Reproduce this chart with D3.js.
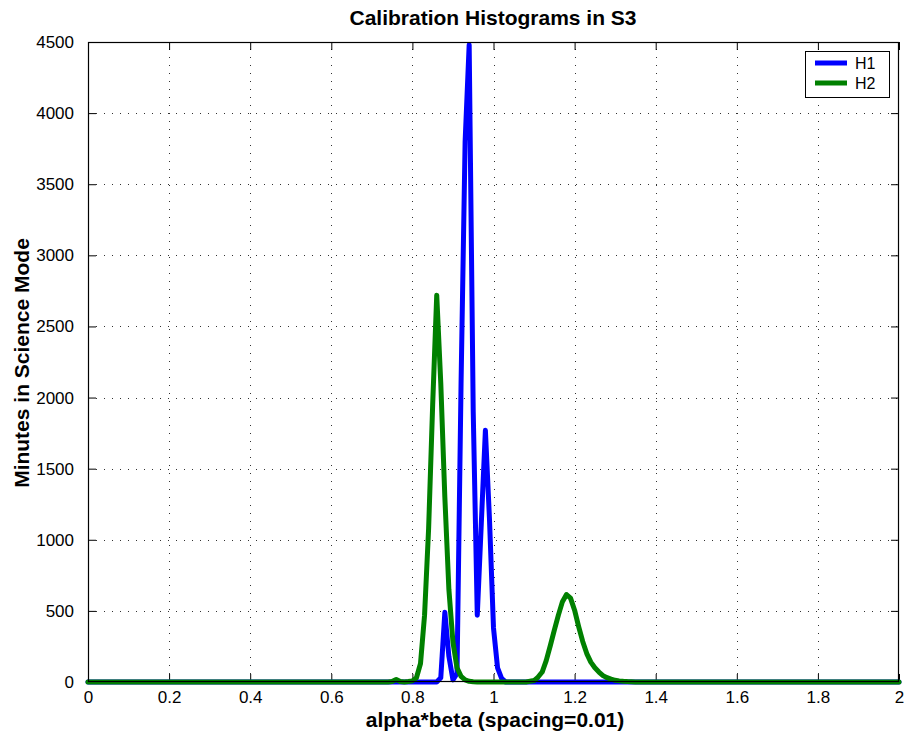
<!DOCTYPE html>
<html>
<head>
<meta charset="utf-8">
<script src="https://cdn.jsdelivr.net/npm/d3@7"></script>
<style>
  html, body { margin: 0; padding: 0; background: #fff; }
  svg { display: block; font-family: "Liberation Sans", Arial, Helvetica, sans-serif; }
</style>
</head>
<body>
<svg id="chart" width="907" height="740"></svg>
<script>
// ---- data ----
const title = "Calibration Histograms in S3";
const xLabel = "alpha*beta (spacing=0.01)";
const yLabel = "Minutes in Science Mode";
const seriesNames = ["H1", "H2"];

const xTicks = [0, 0.2, 0.4, 0.6, 0.8, 1.0, 1.2, 1.4, 1.6, 1.8, 2.0];
const xTickLabels = ["0", "0.2", "0.4", "0.6", "0.8", "1", "1.2", "1.4", "1.6", "1.8", "2"];
const yTicks = [0, 500, 1000, 1500, 2000, 2500, 3000, 3500, 4000, 4500];
const yTickLabels = ["0", "500", "1000", "1500", "2000", "2500", "3000", "3500", "4000", "4500"];

const h1X = [0, 0.86, 0.87, 0.88, 0.89, 0.90, 0.91, 0.92, 0.93, 0.94, 0.95, 0.96, 0.97, 0.98, 0.99, 1.00, 1.01, 1.02, 1.03, 2.00];
const h1Y = [0, 0,    30,   490,  180,  15,   60,   2100, 3800, 4480, 1900, 470,  1120, 1770, 1150, 380,  100,  25,   0,    0];

const h2X = [0, 0.74, 0.75, 0.76, 0.77, 0.78, 0.79, 0.80, 0.81, 0.82, 0.83, 0.84, 0.85, 0.86, 0.87, 0.88, 0.89, 0.90, 0.91, 0.92, 0.93, 0.94, 0.95, 0.96,
             1.08, 1.09, 1.10, 1.11, 1.12, 1.13, 1.14, 1.15, 1.16, 1.17, 1.18, 1.19, 1.20, 1.21, 1.22, 1.23, 1.24, 1.25, 1.26, 1.27, 1.28, 1.29, 1.30, 1.31, 1.32, 1.33, 1.34, 1.35, 2.00];
const h2Y = [0, 0,    3,    18,   3,    0,    3,    8,    30,   130,  470,  1080, 1950, 2720, 2100, 1300, 650,  280,  100,  40,   15,   5,    2,    0,
             0,    5,    10,   35,   70,   150,  255,  365,  470,  565,  615,  590,  505,  390,  285,  200,  140,  100,  70,   45,   30,   20,   12,   8,    5,    3,    2,    0,    0];

// ---- layout ----
const svg = d3.select("#chart");
const L = 88, R = 899, T = 42, B = 682;
const x = d3.scaleLinear().domain([0, 2]).range([L, R]);
const y = d3.scaleLinear().domain([0, 4500]).range([B, T]);
const colors = ["#0000ff", "#008000"];

// grid
const grid = svg.append("g").attr("stroke", "#000").attr("stroke-width", 1)
  .attr("stroke-dasharray", "1,7").attr("shape-rendering", "crispEdges").attr("opacity", 0.8);
xTicks.slice(1, -1).forEach(v => {
  grid.append("line").attr("x1", Math.round(x(v)) + 0.5).attr("x2", Math.round(x(v)) + 0.5)
    .attr("y1", B).attr("y2", T);
});
yTicks.slice(1, -1).forEach(v => {
  grid.append("line").attr("y1", Math.round(y(v)) + 0.5).attr("y2", Math.round(y(v)) + 0.5)
    .attr("x1", L).attr("x2", R);
});

// axes with inward ticks
const tickLen = 8;
const fmtX = (d, i) => xTickLabels[i];
const fmtY = (d, i) => yTickLabels[i];

const axB = svg.append("g").attr("transform", `translate(0,${B})`)
  .call(d3.axisBottom(x).tickValues(xTicks).tickFormat(fmtX).tickSizeInner(-tickLen).tickSizeOuter(0).tickPadding(tickLen + 14));
const axT = svg.append("g").attr("transform", `translate(0,${T})`)
  .call(d3.axisTop(x).tickValues(xTicks).tickFormat("").tickSizeInner(-tickLen).tickSizeOuter(0));
const axL = svg.append("g").attr("transform", `translate(${L},0)`)
  .call(d3.axisLeft(y).tickValues(yTicks).tickFormat(fmtY).tickSizeInner(-tickLen).tickSizeOuter(0).tickPadding(tickLen + 6));
const axR = svg.append("g").attr("transform", `translate(${R},0)`)
  .call(d3.axisRight(y).tickValues(yTicks).tickFormat("").tickSizeInner(-tickLen).tickSizeOuter(0));

[axB, axT, axL, axR].forEach(a => {
  a.select(".domain").remove();
  a.selectAll("line").attr("stroke", "#000");
  a.selectAll("text").attr("font-size", 17).attr("fill", "#000")
    .attr("font-family", '"Liberation Sans", Arial, sans-serif');
});
axB.selectAll("text").attr("dy", null).attr("y", 21);

// lines
const line = d3.line().x(d => x(d[0])).y(d => y(d[1]));
const series = [d3.zip(h1X, h1Y), d3.zip(h2X, h2Y)];
series.forEach((s, i) => {
  svg.append("path").datum(s).attr("d", line)
    .attr("fill", "none").attr("stroke", colors[i]).attr("stroke-width", 5)
    .attr("stroke-linejoin", "round").attr("stroke-linecap", "round");
});

// frame
svg.append("rect").attr("x", L + 0.5).attr("y", T + 0.5).attr("width", R - L - 1).attr("height", B - T - 1)
  .attr("fill", "none").attr("stroke", "#000").attr("stroke-width", 1.2);

// legend
const lg = svg.append("g");
lg.append("rect").attr("x", 805.5).attr("y", 51.5).attr("width", 84).attr("height", 46)
  .attr("fill", "#fff").attr("stroke", "#000").attr("stroke-width", 1);
seriesNames.forEach((n, i) => {
  const yy = 63 + i * 20;
  lg.append("line").attr("x1", 815).attr("x2", 847).attr("y1", yy).attr("y2", yy)
    .attr("stroke", colors[i]).attr("stroke-width", 5);
  lg.append("text").attr("x", 855).attr("y", yy + 6).attr("font-size", 16).text(n);
});

// titles
svg.append("text").attr("x", 493).attr("y", 25).attr("text-anchor", "middle")
  .attr("font-size", 21).attr("font-weight", "bold").text(title);
svg.append("text").attr("x", 495).attr("y", 727).attr("text-anchor", "middle")
  .attr("font-size", 21).attr("font-weight", "bold").text(xLabel);
svg.append("text").attr("transform", "translate(29,363) rotate(-90)").attr("text-anchor", "middle")
  .attr("font-size", 21).attr("font-weight", "bold").text(yLabel);
</script>
</body>
</html>
